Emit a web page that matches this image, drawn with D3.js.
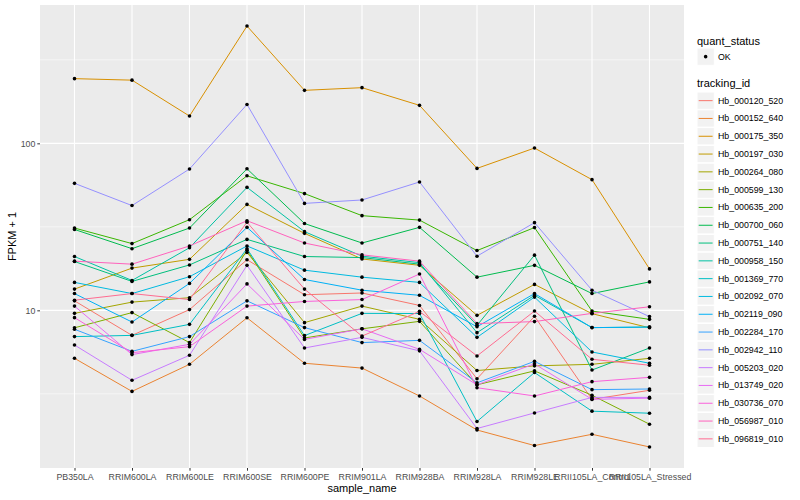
<!DOCTYPE html>
<html>
<head>
<meta charset="utf-8">
<script src="https://cdn.jsdelivr.net/npm/d3@7"></script>
<style>
  body { margin: 0; background: #ffffff; }
  svg { display: block; font-family: "Liberation Sans", Arial, sans-serif; }
</style>
</head>
<body>
<svg id="chart" width="800" height="500"></svg>
<script>
const samples = [
  "PB350LA", "RRIM600LA", "RRIM600LE", "RRIM600SE", "RRIM600PE", "RRIM901LA",
  "RRIM928BA", "RRIM928LA", "RRIM928LE", "RRII105LA_Control", "RRII105LA_Stressed",
];

const trackingIds = [
  "Hb_000120_520", "Hb_000152_640", "Hb_000175_350", "Hb_000197_030", "Hb_000264_080",
  "Hb_000599_130", "Hb_000635_200", "Hb_000700_060", "Hb_000751_140", "Hb_000958_150",
  "Hb_001369_770", "Hb_002092_070", "Hb_002119_090", "Hb_002284_170", "Hb_002942_110",
  "Hb_005203_020", "Hb_013749_020", "Hb_030736_070", "Hb_056987_010", "Hb_096819_010",
];

// FPKM + 1, one row per tracking_id, one column per sample
const seriesValues = [
  [11.4, 7.08, 10.1, 20.1, 12.4, 12.7, 10.7, 3.89, 9.21, 2.93, 3.32],
  [5.16, 3.27, 4.75, 9.02, 4.82, 4.51, 3.07, 1.92, 1.55, 1.81, 1.52],
  [244, 239, 145.7, 504, 207.7, 215.5, 168.9, 70.8, 93.7, 60.6, 17.7],
  [13.4, 17.9, 20.2, 43.1, 28.9, 20.3, 18.6, 9.33, 14.3, 9.55, 7.86],
  [9.59, 11.2, 11.9, 22.2, 8.44, 10.6, 8.83, 4.36, 4.65, 4.75, 5.16],
  [7.86, 9.69, 6.41, 22.9, 6.83, 7.75, 8.59, 3.58, 4.34, 3.1, 2.08],
  [31.1, 25.1, 34.9, 63.9, 50.0, 36.9, 34.7, 22.8, 31.3, 9.9, 8.83],
  [30.5, 23.4, 31.1, 70.4, 33.1, 25.3, 31.4, 15.8, 18.6, 12.6, 14.8],
  [19.6, 14.9, 18.7, 26.6, 21.0, 20.7, 18.9, 8.13, 21.4, 4.39, 5.95],
  [21.0, 15.1, 23.7, 54.5, 29.6, 21.1, 19.3, 7.35, 12.3, 7.88, 7.94],
  [6.96, 7.08, 8.24, 23.4, 7.06, 9.59, 9.57, 2.16, 4.24, 2.49, 2.42],
  [14.7, 12.6, 15.9, 24.3, 17.4, 15.8, 14.7, 6.89, 12.0, 5.63, 4.82],
  [12.6, 8.51, 14.5, 31.4, 15.3, 13.2, 12.3, 7.97, 12.6, 7.88, 7.94],
  [7.7, 5.68, 6.96, 11.4, 7.88, 6.41, 6.61, 3.68, 4.95, 3.35, 3.38],
  [57.6, 42.4, 70.2, 171, 43.7, 45.8, 58.7, 21.1, 33.5, 13.2, 9.17],
  [6.2, 3.81, 5.38, 18.6, 5.95, 6.89, 5.72, 1.96, 2.43, 3.01, 3.01],
  [10.6, 5.43, 6.26, 14.4, 6.7, 7.75, 5.84, 3.58, 4.78, 2.93, 2.98],
  [9.04, 5.58, 6.06, 10.6, 11.3, 11.6, 16.5, 3.44, 3.07, 3.74, 3.97],
  [19.7, 18.9, 24.3, 34.4, 25.3, 21.5, 19.7, 8.33, 8.56, 9.59, 10.5],
  [11.5, 12.6, 11.6, 33.7, 13.4, 7.01, 9.86, 5.33, 9.9, 5.09, 4.69],
];

const yBreaks = [10, 100];
const yMinorBreaks = [3.1623, 31.623, 316.23];

const palette = [
  "#F8766D", "#EA8331", "#D89000", "#C09B00", "#A3A500", "#7CAE00", "#39B600",
  "#00BB4E", "#00BF7D", "#00C1A3", "#00BFC4", "#00BAE0", "#00B0F6", "#35A2FF",
  "#9590FF", "#C77CFF", "#E76BF3", "#FA62DB", "#FF62BC", "#FF6C91",
];

const panel = { left: 40, right: 684, top: 5, bottom: 468 };
const svg = d3.select("#chart");

const x = d3.scalePoint().domain(samples).range([panel.left, panel.right]).padding(0.6);

const allValues = seriesValues.flat();
const [lo, hi] = d3.extent(allValues).map(Math.log10);
const pad = (hi - lo) * 0.05;
const y = d3
  .scaleLog()
  .domain([Math.pow(10, lo - pad), Math.pow(10, hi + pad)])
  .range([panel.bottom, panel.top]);

svg.append("rect").attr("width", 800).attr("height", 500).attr("fill", "#ffffff");

svg
  .append("rect")
  .attr("x", panel.left)
  .attr("y", panel.top)
  .attr("width", panel.right - panel.left)
  .attr("height", panel.bottom - panel.top)
  .attr("fill", "#EBEBEB");

const grid = svg.append("g").attr("stroke", "#ffffff");
grid
  .selectAll("line.minor")
  .data(yMinorBreaks)
  .join("line")
  .attr("class", "minor")
  .attr("x1", panel.left)
  .attr("x2", panel.right)
  .attr("y1", (d) => y(d))
  .attr("y2", (d) => y(d))
  .attr("stroke-width", 0.55);
grid
  .selectAll("line.major-y")
  .data(yBreaks)
  .join("line")
  .attr("class", "major-y")
  .attr("x1", panel.left)
  .attr("x2", panel.right)
  .attr("y1", (d) => y(d))
  .attr("y2", (d) => y(d))
  .attr("stroke-width", 1.1);
grid
  .selectAll("line.major-x")
  .data(samples)
  .join("line")
  .attr("class", "major-x")
  .attr("x1", (d) => x(d))
  .attr("x2", (d) => x(d))
  .attr("y1", panel.top)
  .attr("y2", panel.bottom)
  .attr("stroke-width", 1.1);

const line = d3
  .line()
  .x((d, i) => x(samples[i]))
  .y((d) => y(d));

svg
  .append("g")
  .attr("fill", "none")
  .attr("stroke-width", 1)
  .selectAll("path")
  .data(seriesValues)
  .join("path")
  .attr("stroke", (d, i) => palette[i])
  .attr("d", line);

const points = seriesValues.flatMap((vals) => vals.map((v, i) => ({ sample: samples[i], v })));
svg
  .append("g")
  .selectAll("circle")
  .data(points)
  .join("circle")
  .attr("cx", (d) => x(d.sample))
  .attr("cy", (d) => y(d.v))
  .attr("r", 1.8)
  .attr("fill", "#000000");

// axes
const yAxis = svg
  .append("g")
  .attr("transform", `translate(${panel.left},0)`)
  .call(d3.axisLeft(y).tickValues(yBreaks).tickFormat(d3.format("d")).tickSize(2.7).tickPadding(2));
const xAxis = svg
  .append("g")
  .attr("transform", `translate(0,${panel.bottom})`)
  .call(d3.axisBottom(x).tickSize(2.7).tickPadding(3));

[yAxis, xAxis].forEach((axis) => {
  axis.select(".domain").remove();
  axis.selectAll(".tick line").attr("stroke", "#333333").attr("stroke-width", 1);
  axis
    .selectAll(".tick text")
    .attr("fill", "#4D4D4D")
    .style("font-size", "8.8px")
    .style("font-family", "'Liberation Sans', Arial, sans-serif");
});

svg
  .append("text")
  .attr("x", (panel.left + panel.right) / 2)
  .attr("y", 492)
  .attr("text-anchor", "middle")
  .style("font-size", "11px")
  .text("sample_name");

svg
  .append("text")
  .attr("transform", `translate(16,${(panel.top + panel.bottom) / 2}) rotate(-90)`)
  .attr("text-anchor", "middle")
  .style("font-size", "11px")
  .text("FPKM + 1");

// legends
const legend = svg.append("g").attr("transform", "translate(697,0)");
const keySize = 17.3;

legend.append("text").attr("x", 0).attr("y", 44.5).style("font-size", "11px").text("quant_status");
legend
  .append("rect")
  .attr("x", 0)
  .attr("y", 48)
  .attr("width", keySize)
  .attr("height", keySize)
  .attr("fill", "#F2F2F2")
  .attr("stroke", "#ffffff");
legend
  .append("circle")
  .attr("cx", keySize / 2)
  .attr("cy", 48 + keySize / 2)
  .attr("r", 1.8)
  .attr("fill", "#000000");
legend
  .append("text")
  .attr("x", 21)
  .attr("y", 48 + keySize / 2 + 3)
  .style("font-size", "8.8px")
  .text("OK");

legend.append("text").attr("x", 0).attr("y", 87).style("font-size", "11px").text("tracking_id");

const keyTop = 92;
const keyStep = 17.8;
const keys = legend
  .selectAll("g.key")
  .data(trackingIds)
  .join("g")
  .attr("class", "key")
  .attr("transform", (d, i) => `translate(0,${keyTop + i * keyStep})`);
keys
  .append("rect")
  .attr("width", keySize)
  .attr("height", keySize)
  .attr("fill", "#F2F2F2")
  .attr("stroke", "#ffffff");
keys
  .append("line")
  .attr("x1", 1.7)
  .attr("x2", keySize - 1.7)
  .attr("y1", keySize / 2)
  .attr("y2", keySize / 2)
  .attr("stroke", (d, i) => palette[i])
  .attr("stroke-width", 1);
keys
  .append("text")
  .attr("x", 21)
  .attr("y", keySize / 2 + 3)
  .style("font-size", "8.8px")
  .text((d) => d);
</script>
</body>
</html>
